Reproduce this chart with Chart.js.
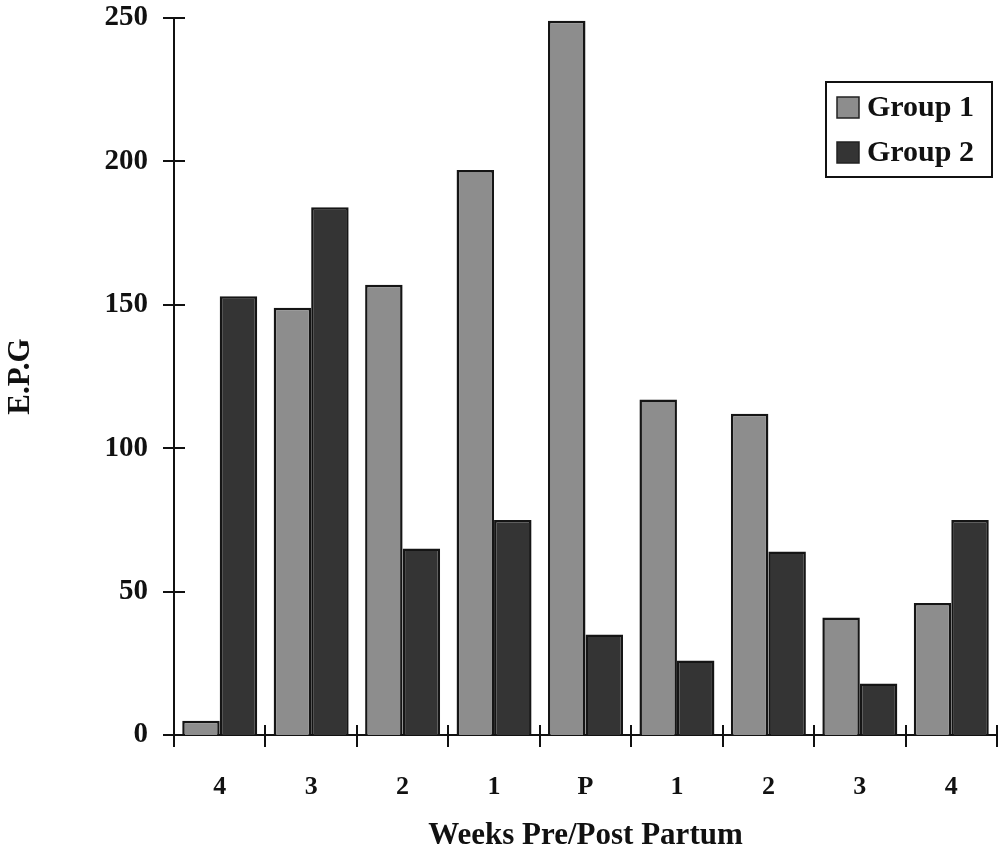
<!DOCTYPE html>
<html>
<head>
<meta charset="utf-8">
<script src="https://cdn.jsdelivr.net/npm/chart.js@4/dist/chart.umd.min.js"></script>
<style>
  html, body { margin: 0; padding: 0; background: #fff; }
  #wrap { width: 1002px; height: 859px; }
</style>
</head>
<body>
<div id="wrap"><canvas id="c" width="1002" height="859"></canvas></div>
<script>
// Weeks relative to partum (4..1 before, P, 1..4 after)
const weeks = ['4', '3', '2', '1', 'P', '1', '2', '3', '4'];
// Eggs per gram of faeces
const group1 = [5, 149, 157, 197, 249, 117, 112, 41, 46];
const group2 = [153, 184, 65, 75, 35, 26, 64, 18, 75];
const yTicks = [0, 50, 100, 150, 200, 250];

const SERIF = "'Liberation Serif', 'Times New Roman', serif";

// Tick marks that cross both axis lines
const crossTicks = {
  id: 'crossTicks',
  afterDraw(chart) {
    const ctx = chart.ctx;
    const x = chart.scales.x, y = chart.scales.y;
    ctx.save();
    ctx.strokeStyle = '#111';
    ctx.lineWidth = 2;
    ctx.beginPath();
    yTicks.forEach(v => {
      const py = Math.round(y.getPixelForValue(v));
      ctx.moveTo(x.left - 11, py);
      ctx.lineTo(x.left + 11, py);
    });
    const n = weeks.length;
    for (let i = 0; i <= n; i++) {
      let px;
      if (i === 0) px = x.left;
      else if (i === n) px = x.right;
      else px = (x.getPixelForValue(i - 1) + x.getPixelForValue(i)) / 2;
      px = Math.round(px);
      ctx.moveTo(px, y.bottom - 10);
      ctx.lineTo(px, y.bottom + 12);
    }
    ctx.stroke();
    ctx.restore();
  }
};

// Boxed legend inside the plot, upper right
const boxLegend = {
  id: 'boxLegend',
  afterDraw(chart) {
    const ctx = chart.ctx;
    const box = { x: 826, y: 82, w: 166, h: 95 };
    ctx.save();
    ctx.fillStyle = '#fff';
    ctx.fillRect(box.x, box.y, box.w, box.h);
    ctx.strokeStyle = '#111';
    ctx.lineWidth = 2;
    ctx.strokeRect(box.x, box.y, box.w, box.h);
    ctx.font = 'bold 30px ' + SERIF;
    ctx.textBaseline = 'middle';
    ctx.textAlign = 'left';
    chart.data.datasets.forEach((ds, i) => {
      const cy = box.y + 25 + i * 45;
      ctx.fillStyle = ds.backgroundColor;
      ctx.fillRect(box.x + 11, cy - 10, 22, 21);
      ctx.lineWidth = 1.5;
      ctx.strokeStyle = '#222';
      ctx.strokeRect(box.x + 11, cy - 10, 22, 21);
      ctx.fillStyle = '#111';
      ctx.fillText(ds.label, box.x + 41, cy + 1);
    });
    ctx.restore();
  }
};

new Chart(document.getElementById('c'), {
  type: 'bar',
  data: {
    labels: weeks,
    datasets: [
      {
        label: 'Group 1',
        data: group1,
        backgroundColor: '#8d8d8d',
        borderColor: '#151515',
        borderWidth: 2.5,
        borderSkipped: 'bottom'
      },
      {
        label: 'Group 2',
        data: group2,
        backgroundColor: '#343434',
        borderColor: '#151515',
        borderWidth: 2.5,
        borderSkipped: 'bottom'
      }
    ]
  },
  options: {
    responsive: false,
    animation: false,
    devicePixelRatio: 1,
    layout: { padding: { left: 0, top: 18, right: 5, bottom: 0 } },
    categoryPercentage: 0.82,
    barPercentage: 1.0,
    plugins: {
      legend: { display: false },
      tooltip: { enabled: false }
    },
    scales: {
      x: {
        grid: { display: false, drawTicks: false },
        border: { display: true, color: '#111', width: 2 },
        ticks: {
          color: '#111',
          padding: 37,
          font: { family: SERIF, size: 26, weight: 'bold' }
        },
        title: {
          display: true,
          text: 'Weeks Pre/Post Partum',
          color: '#111',
          font: { family: SERIF, size: 31, weight: 'bold' },
          padding: { top: 0, bottom: 4 }
        },
        afterFit(scale) {
          scale.height = 124;
          scale.paddingLeft = 0;
          scale.paddingRight = 0;
        }
      },
      y: {
        min: 0,
        max: 250,
        grid: { display: false, drawTicks: false },
        border: { display: true, color: '#111', width: 2 },
        afterBuildTicks(scale) { scale.ticks = yTicks.map(v => ({ value: v })); },
        ticks: {
          color: '#111',
          padding: 26,
          font: { family: SERIF, size: 29, weight: 'bold' }
        },
        title: {
          display: true,
          text: 'E.P.G',
          color: '#111',
          font: { family: SERIF, size: 31, weight: 'bold' },
          padding: { top: 2, bottom: 0 }
        },
        afterFit(scale) {
          scale.width = 174;
          scale.paddingTop = 0;
          scale.paddingBottom = 0;
        }
      }
    }
  },
  plugins: [crossTicks, boxLegend]
});
</script>
</body>
</html>
